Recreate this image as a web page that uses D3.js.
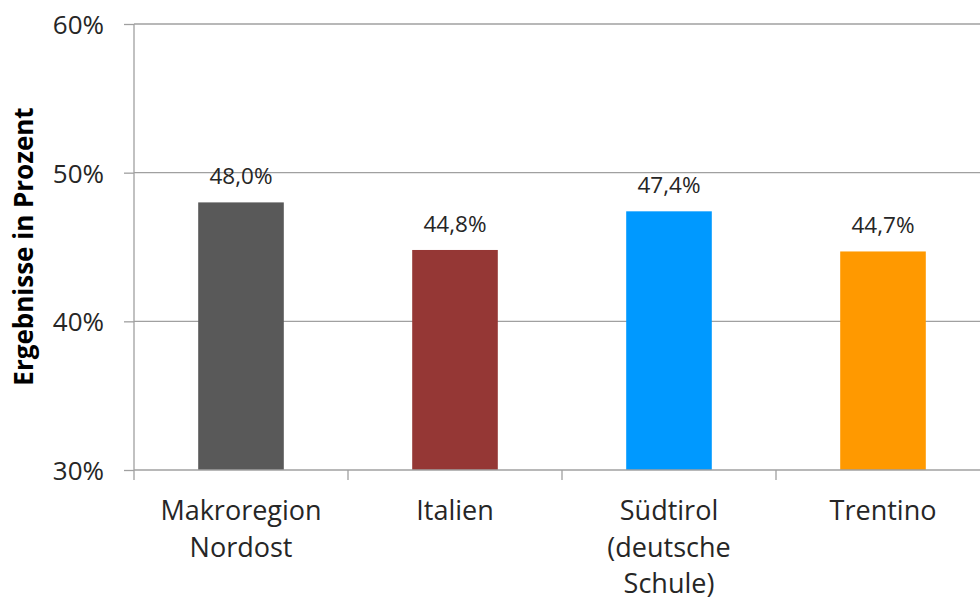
<!DOCTYPE html>
<html>
<head>
<meta charset="utf-8">
<script src="https://cdn.jsdelivr.net/npm/d3@7"></script>
<style>
  html, body { margin: 0; padding: 0; background: #fff; }
  svg { display: block; font-family: "Open Sans", "DejaVu Sans", sans-serif; }
</style>
</head>
<body>
<svg id="chart" width="980" height="603"></svg>
<script>
// Kategorien (mehrzeilige Beschriftungen) und Ergebnisse in Prozent
const categories = ["Makroregion Nordost", "Italien", "Südtirol (deutsche Schule)", "Trentino"];
const categoryLines = [["Makroregion", "Nordost"], ["Italien"], ["Südtirol", "(deutsche", "Schule)"], ["Trentino"]];
const values = [48.0, 44.8, 47.4, 44.7];
const valueLabels = ["48,0%", "44,8%", "47,4%", "44,7%"];
const barColors = ["#595959", "#953735", "#0099FF", "#FF9900"];
const yTicks = [30, 40, 50, 60];
const yTickLabels = ["30%", "40%", "50%", "60%"];
const yTitle = "Ergebnisse in Prozent";

const svg = d3.select("#chart");
const plotLeft = 134, plotRight = 990, plotTop = 24, plotBottom = 470;
const textColor = "#262626";
const lineColor = "#A0A0A0";

const x = d3.scaleBand()
  .domain(categories)
  .range([plotLeft, plotRight])
  .paddingInner(0.6)
  .paddingOuter(0.3);

const y = d3.scaleLinear().domain([30, 60]).range([plotBottom, plotTop]);

// horizontale Gitterlinien
svg.append("g")
  .selectAll("line")
  .data(yTicks.filter(t => t > 30))
  .join("line")
  .attr("x1", plotLeft).attr("x2", 980)
  .attr("y1", d => y(d)).attr("y2", d => y(d))
  .attr("stroke", lineColor).attr("stroke-width", 1.3);

// y-Achse
const yAxis = svg.append("g")
  .attr("transform", `translate(${plotLeft},0)`)
  .call(d3.axisLeft(y).tickValues(yTicks).tickSize(10).tickPadding(20)
    .tickFormat((d, i) => yTickLabels[i]));
yAxis.select(".domain").remove();
yAxis.selectAll(".tick line").attr("stroke", lineColor).attr("stroke-width", 1.3);
yAxis.selectAll(".tick text")
  .attr("fill", textColor)
  .style("font-size", "26px")
  .style("font-family", "'Open Sans', sans-serif")
  .attr("dy", "0.36em");
svg.append("line")
  .attr("x1", plotLeft).attr("x2", plotLeft)
  .attr("y1", plotTop).attr("y2", plotBottom + 10)
  .attr("stroke", lineColor).attr("stroke-width", 1.3);

// Balken
svg.append("g")
  .selectAll("rect")
  .data(values)
  .join("rect")
  .attr("x", (d, i) => x(categories[i]))
  .attr("width", x.bandwidth())
  .attr("y", d => y(d))
  .attr("height", d => y(30) - y(d))
  .attr("fill", (d, i) => barColors[i]);

// Wertbeschriftungen
svg.append("g")
  .selectAll("text")
  .data(values)
  .join("text")
  .attr("x", (d, i) => x(categories[i]) + x.bandwidth() / 2)
  .attr("y", d => y(d) - 18)
  .attr("text-anchor", "middle")
  .attr("fill", textColor)
  .style("font-size", "22.5px")
  .text((d, i) => valueLabels[i]);

// x-Achse mit Trennstrichen zwischen den Kategorien
svg.append("line")
  .attr("x1", plotLeft).attr("x2", plotRight)
  .attr("y1", plotBottom).attr("y2", plotBottom)
  .attr("stroke", lineColor).attr("stroke-width", 1.3);
const step = x.step();
svg.append("g")
  .selectAll("line")
  .data(categories.slice(1))
  .join("line")
  .attr("x1", (d, i) => plotLeft + (i + 1) * step)
  .attr("x2", (d, i) => plotLeft + (i + 1) * step)
  .attr("y1", plotBottom).attr("y2", plotBottom + 10)
  .attr("stroke", lineColor).attr("stroke-width", 1.3);

// Kategoriebeschriftungen
const catText = svg.append("g")
  .selectAll("text")
  .data(categories)
  .join("text")
  .attr("text-anchor", "middle")
  .attr("fill", textColor)
  .style("font-size", "27px")
  .attr("transform", d => `translate(${x(d) + x.bandwidth() / 2},520)`);
catText.selectAll("tspan")
  .data((d, i) => categoryLines[i])
  .join("tspan")
  .attr("x", 0)
  .attr("y", (d, i) => i * 36.7)
  .text(d => d);

// Achsentitel
svg.append("text")
  .attr("transform", `translate(33,${(108 + 385) / 2}) rotate(-90)`)
  .attr("text-anchor", "middle")
  .attr("fill", "#000")
  .style("font-size", "26px")
  .style("font-weight", "bold")
  .text(yTitle);
</script>
</body>
</html>
